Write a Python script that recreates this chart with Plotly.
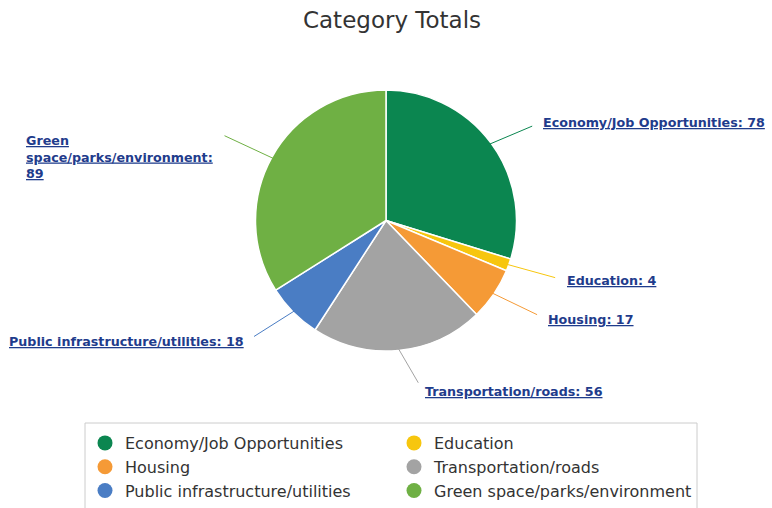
import math
import plotly.graph_objects as go

# data
categories = ["Economy/Job Opportunities", "Education", "Housing",
              "Transportation/roads", "Public infrastructure/utilities",
              "Green space/parks/environment"]
totals = [78, 4, 17, 56, 18, 89]
colors = ["#0B8650", "#F7C60E", "#F59A36", "#A3A3A3", "#4A7DC4", "#6FB044"]

W, H = 772, 508
ML, MR = 40, 40
PW = W - ML - MR


def px_x(x):
    return (x - ML) / PW


def px_y(y):
    return 1 - y / H


# pie placement in pixels
cx, cy, R = 386, 220.5, 130.5

# label offsets from the slice edge (pixels) and anchors
label_pos = [
    (52, -22, "left", "middle"),
    (58, 16, "left", "middle"),
    (54, 26, "left", "middle"),
    (25, 43, "left", "middle"),
    (-49, 31, "right", "middle"),
    (-58, -27, "right", "top"),
]

fig = go.Figure()

fig.add_trace(go.Pie(
    labels=categories,
    values=totals,
    sort=False,
    direction="clockwise",
    rotation=0,
    marker=dict(colors=colors, line=dict(color="white", width=1.5)),
    textinfo="none",
    hoverinfo="label+value",
    showlegend=False,
    domain=dict(x=[px_x(cx - R), px_x(cx + R)], y=[px_y(cy + R), px_y(cy - R)]),
))

# legend entries with round markers
for name, col in zip(categories, colors):
    fig.add_trace(go.Scatter(
        x=[None], y=[None], mode="markers", name=name,
        marker=dict(color=col, size=15, symbol="circle"),
    ))

total = sum(totals)
cum = 0
for i, (name, val) in enumerate(zip(categories, totals)):
    mid = (cum + val / 2) / total * 2 * math.pi
    cum += val
    tx = cx + (R - 2) * math.sin(mid)
    ty = cy - (R - 2) * math.cos(mid)
    text = f"{name}: {val}"
    if name.startswith("Green"):
        lines = text.replace("Green ", "Green\n").replace(": ", ":\n").split("\n")
    else:
        lines = [text]
    text = "<br>".join(f'<span style="text-decoration:underline">{ln}</span>' for ln in lines)
    dx, dy, xa, ya = label_pos[i]
    fig.add_annotation(
        x=px_x(tx), y=px_y(ty), xref="paper", yref="paper",
        ax=dx, ay=dy, text=f"<b>{text}</b>",
        showarrow=True, arrowhead=0, arrowwidth=1, arrowcolor=colors[i],
        startstandoff=10, xanchor=xa, yanchor=ya, align="left",
        font=dict(family="DejaVu Sans", size=12.7, color="#1F3C8C"),
    )

fig.add_shape(type="rect", xref="paper", yref="paper",
              x0=px_x(85), x1=px_x(697), y0=px_y(530), y1=px_y(423),
              line=dict(color="#CCCCCC", width=1), fillcolor="rgba(0,0,0,0)")

fig.update_layout(
    width=W, height=H,
    margin=dict(l=ML, r=MR, t=0, b=0),
    paper_bgcolor="white", plot_bgcolor="white",
    font=dict(family="DejaVu Sans", color="#333333"),
    title=dict(text="Category Totals", x=392 / W, xref="container", xanchor="center",
               y=1 - 20 / H, yref="container", yanchor="middle",
               font=dict(size=23, color="#333333")),
    xaxis=dict(visible=False), yaxis=dict(visible=False),
    legend=dict(orientation="h", x=px_x(85), y=px_y(426), xanchor="left", yanchor="top",
                entrywidth=264, font=dict(size=16, color="#333333"),
                bgcolor="rgba(0,0,0,0)"),
)

fig.write_html("out.html", config={"displayModeBar": False},
               post_script="document.body.style.margin='0';")
